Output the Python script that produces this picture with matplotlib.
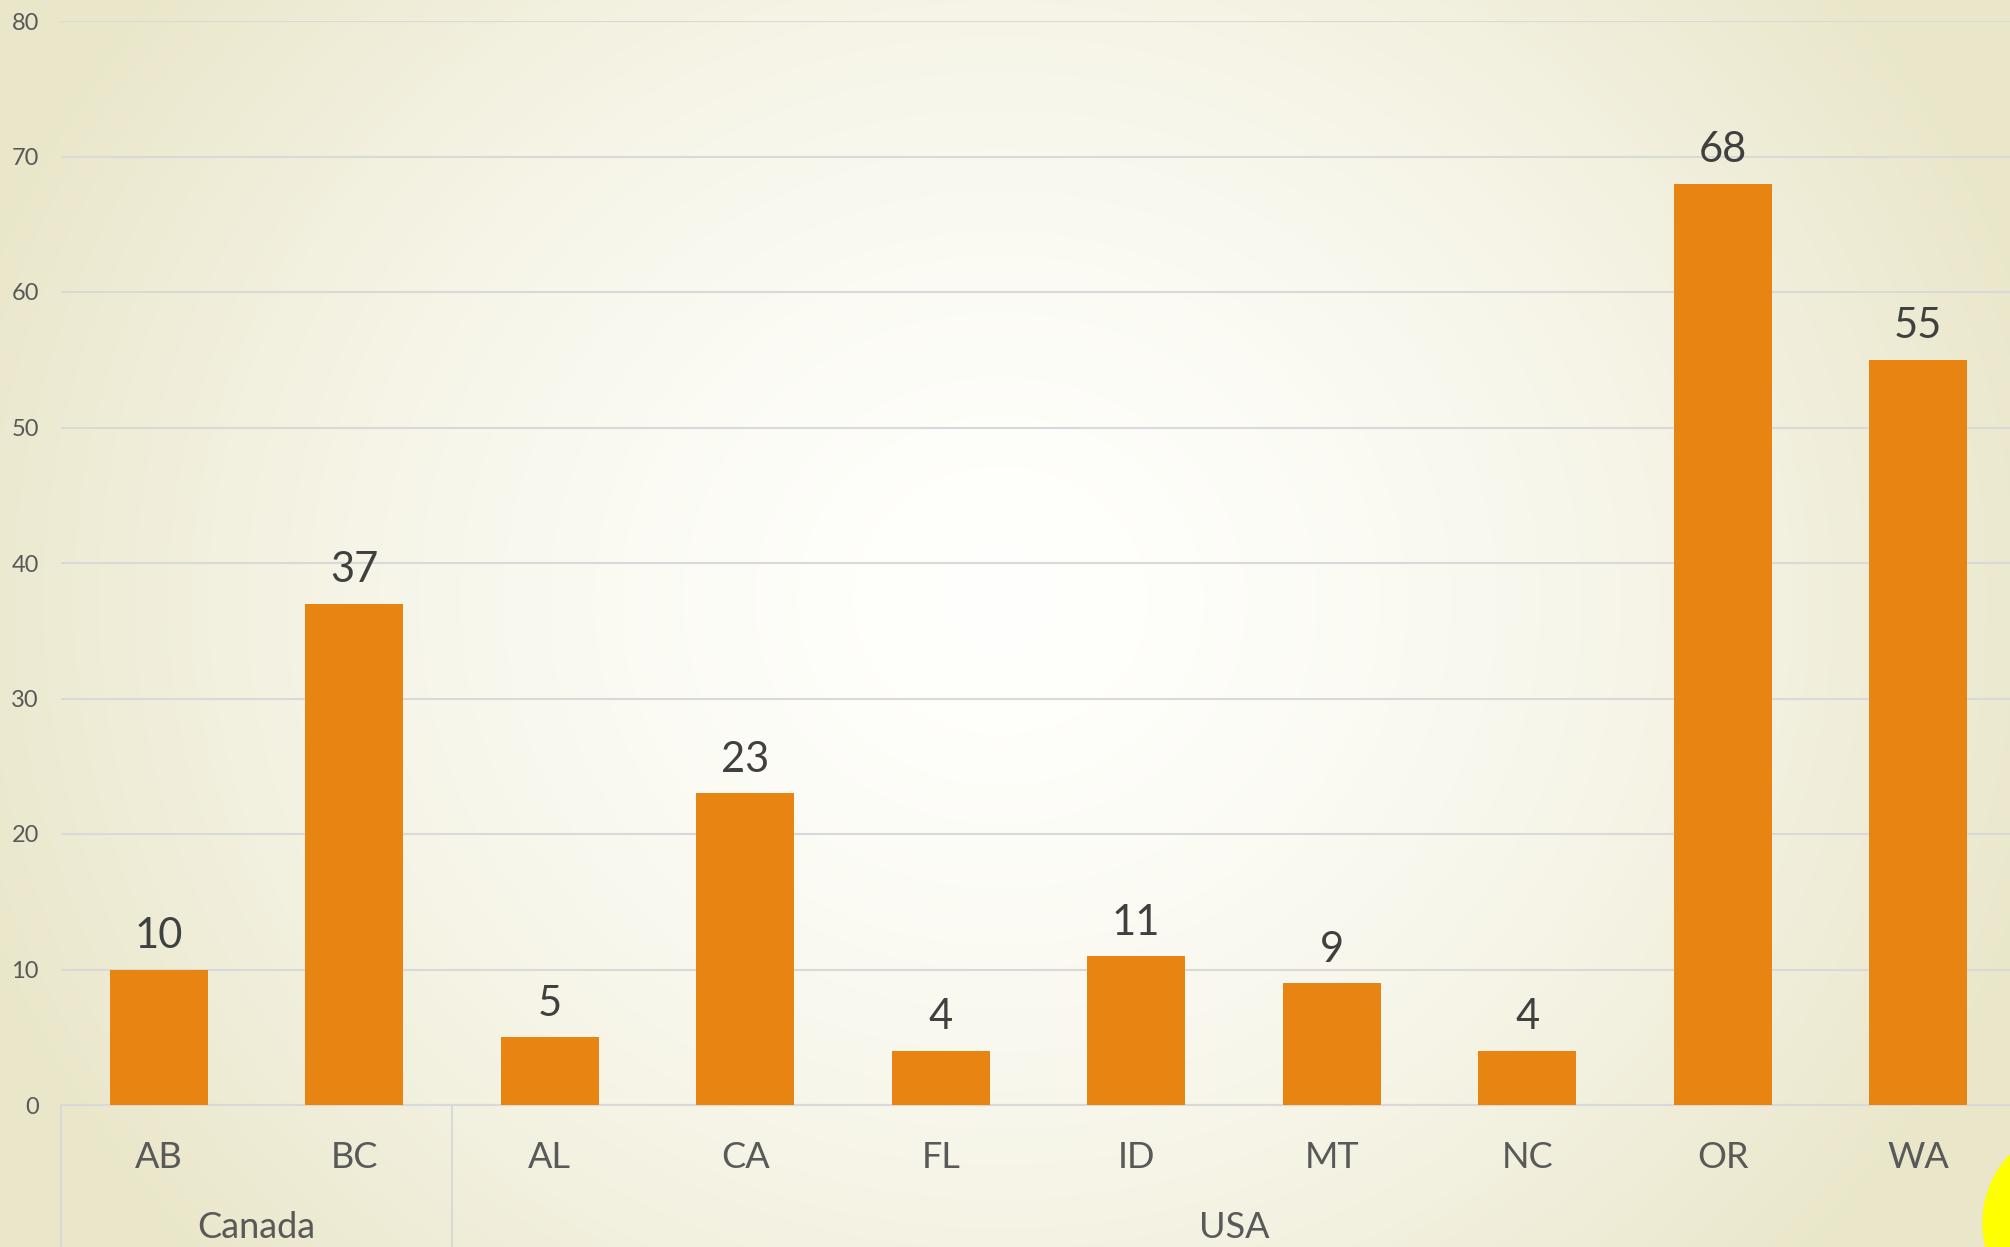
import numpy as np
import matplotlib.pyplot as plt
from matplotlib.patches import Circle

# data
states = ["AB", "BC", "AL", "CA", "FL", "ID", "MT", "NC", "OR", "WA"]
values = [10, 37, 5, 23, 4, 11, 9, 4, 68, 55]
groups = ["Canada", "USA"]
group_sizes = [2, 8]

W, H = 2010, 1247
plt.rcParams['font.family'] = ['Lato', 'DejaVu Sans']

fig = plt.figure(figsize=(W / 100, H / 100), dpi=100)

# radial background gradient
bg = fig.add_axes([0, 0, 1, 1])
bg.set_axis_off()
yy, xx = np.mgrid[0:H, 0:W]
d = np.sqrt(((xx - 1000) / 1100.0) ** 2 + ((yy - 600) / 1000.0) ** 2)
d = np.clip(d, 0, 1) ** 1.6
center = np.array([1.0, 1.0, 0.99])
edge = np.array([233, 230, 201]) / 255.0
img = center[None, None, :] * (1 - d[..., None]) + edge[None, None, :] * d[..., None]
bg.imshow(img, extent=[0, W, H, 0], aspect='auto')
bg.set_xlim(0, W)
bg.set_ylim(H, 0)
bg.add_patch(Circle((2082, 1223), 99, color='#FFFF00', zorder=5))

# main chart
left, right, bottom, top = 61, 2016, 1105, 21
ax = fig.add_axes([left / W, (H - bottom) / H, (right - left) / W, (bottom - top) / H])
ax.set_facecolor('none')

x = np.arange(len(states))
ax.bar(x, values, width=0.5, color='#E88512', zorder=3)

ax.set_xlim(-0.5, len(states) - 0.5)
ax.set_ylim(0, 80)
ax.set_yticks(range(0, 81, 10))
ax.tick_params(axis='y', length=0, pad=16, labelsize=17, labelcolor='#595959')
ax.set_xticks([])
ax.yaxis.grid(True, color='#D9D9D9', linewidth=1.5, zorder=0)
for s in ['top', 'right', 'left']:
    ax.spines[s].set_visible(False)
ax.spines['bottom'].set_color('#D9D9D9')
ax.spines['bottom'].set_linewidth(1.5)

# value labels
for i, v in enumerate(values):
    ax.annotate(str(v), (i, v), xytext=(0, 24), textcoords='offset points',
                ha='center', va='center', fontsize=30, color='#404040')

# category labels (two levels)
trans = ax.get_xaxis_transform()
for i, s in enumerate(states):
    ax.annotate(s, (i, 0), xycoords=trans, xytext=(0, -38), textcoords='offset points',
                ha='center', va='center', fontsize=26, color='#595959')

start = 0
for g, n in zip(groups, group_sizes):
    mid = start + (n - 1) / 2
    ax.annotate(g, (mid, 0), xycoords=trans, xytext=(0, -88), textcoords='offset points',
                ha='center', va='center', fontsize=26, color='#595959')
    ax.plot([start - 0.5, start - 0.5], [0, -0.14], transform=trans,
            color='#D9D9D9', linewidth=1.5, clip_on=False)
    start += n

fig.savefig('out.png', dpi=100)
